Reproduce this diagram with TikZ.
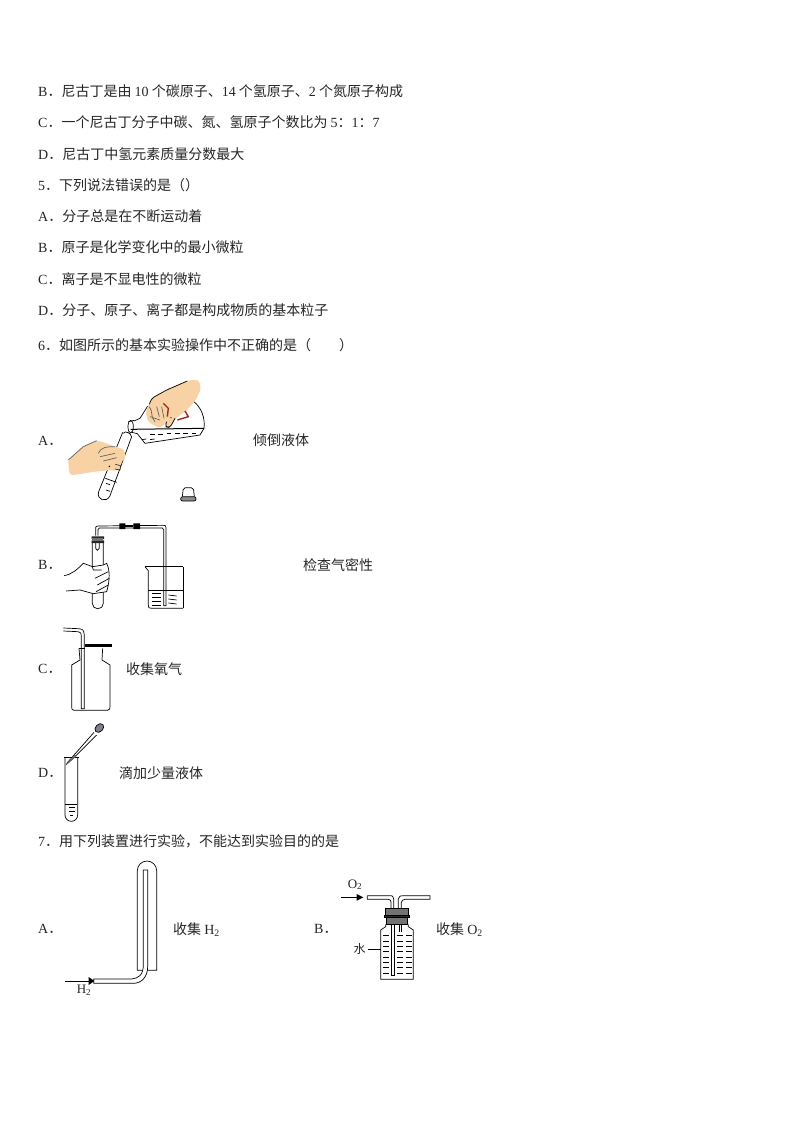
\documentclass[tikz,border=0pt]{standalone}
\usepackage{fontspec}
\setmainfont{Noto Sans CJK SC}
\newfontfamily\lat{Liberation Serif}
\usepackage{tikz}
\definecolor{skin}{HTML}{F8D2A4}
\definecolor{bulb}{HTML}{7F7F8C}
\definecolor{redmark}{HTML}{A02820}
\tikzset{
	linetext/.style={anchor=west,inner sep=0pt,text height=13pt,text depth=2pt,font=\fontsize{14}{14}\selectfont,text=black!85},
	smalltext/.style={anchor=center,inner sep=0pt,font=\fontsize{12}{12}\selectfont,text=black!85},
	zoomed/.style={x=1/3*1pt,y=-1/3*1pt,line width=.7pt}
}
\newcommand{\lt}[1]{{\lat #1}}
\begin{document}
\begin{tikzpicture}[x=1pt,y=-1pt]
	\useasboundingbox[fill=white] (0,0) rectangle (794,1123);
	% text of the page
	\node[linetext] (qb) at (38,91) {\lt{B}．尼古丁是由 \lt{10} 个碳原子、\lt{14} 个氢原子、\lt{2} 个氮原子构成};
	\node[linetext] (qc) at (38,122) {\lt{C}．一个尼古丁分子中碳、氮、氢原子个数比为 \lt{5}：\lt{1}：\lt{7}};
	\node[linetext] (qd) at (38,154) {\lt{D}．尼古丁中氢元素质量分数最大};
	\node[linetext] (qfive) at (38,185) {\lt{5}．下列说法错误的是（）};
	\node[linetext] (fa) at (38,216) {\lt{A}．分子总是在不断运动着};
	\node[linetext] (fb) at (38,247) {\lt{B}．原子是化学变化中的最小微粒};
	\node[linetext] (fc) at (38,279) {\lt{C}．离子是不显电性的微粒};
	\node[linetext] (fd) at (38,310) {\lt{D}．分子、原子、离子都是构成物质的基本粒子};
	\node[linetext] (qsix) at (38,345) {\lt{6}．如图所示的基本实验操作中不正确的是（　　）};
	\node[linetext] (sa) at (38,440) {\lt{A}．};
	\node[linetext] (sat) at (253,440) {倾倒液体};
	\node[linetext] (sb) at (38,564) {\lt{B}．};
	\node[linetext] (sbt) at (303,565) {检查气密性};
	\node[linetext] (sc) at (38,668) {\lt{C}．};
	\node[linetext] (sct) at (126,669) {收集氧气};
	\node[linetext] (sd) at (38,772) {\lt{D}．};
	\node[linetext] (sdt) at (119,773) {滴加少量液体};
	\node[linetext] (qseven) at (38,841) {\lt{7}．用下列装置进行实验，不能达到实验目的的是};
	\node[linetext] (va) at (38,928) {\lt{A}．};
	\node[linetext] (vat) at (173,929) {收集 \lt{H\textsubscript{2}}};
	\node[linetext] (vb) at (314,928) {\lt{B}．};
	\node[linetext] (vbt) at (436,929) {收集 \lt{O\textsubscript{2}}};
	% pouring liquid
	\begin{scope}[shift={(60,375)},zoomed]
		\draw (222,138) -- (240,130) -- (262,95) -- (300,85);
		\draw (395,75) .. controls (425,95) and (436,130) .. (432,160) -- (420,180) -- (255,205) -- (232,176) -- (215,172);
		\draw (205,140) -- (222,136);
		\draw (212,155) ellipse (8 and 19);
		\draw[line width=1pt] (212,163) -- (432,160);
		\foreach \x in {270,295,...,395} \draw (\x,186-\x*.03) -- (\x+14,186-\x*.03);
		\foreach \x in {245,270} \draw (\x,194) -- (\x+14,192);
		\filldraw[fill=skin,draw=skin,rounded corners=3pt] (382,18) -- (415,15) -- (422,40) -- (408,72) -- (380,105) -- (345,130) -- (330,158) -- (315,155) -- (320,140) -- (300,158) -- (265,140) -- (258,110) -- (270,85) -- (275,70) -- (320,45) -- cycle;
		\draw[rounded corners=3pt] (382,18) -- (320,45) -- (275,70) -- (268,88);
		\draw[black!60] (268,95) .. controls (280,110) and (270,125) .. (285,140) (290,95) -- (298,125) (305,95) -- (312,130) (270,125) -- (300,135);
		\draw[redmark,line width=1.4pt] (310,85) -- (325,100) -- (322,125) (352,135) -- (385,125) -- (375,108);
		\draw[rounded corners=3pt] (345,130) -- (330,158) -- (315,155) -- (320,140);
		\fill (333,128) circle (2);
		\draw (188,172) -- (116,350) .. controls (108,375) and (140,385) .. (150,362) -- (215,185);
		\draw (190,175) .. controls (195,165) and (215,175) .. (215,187);
		\draw (136,310) -- (170,322);
		\foreach \y in {325,345} \draw (138,\y) -- (150,\y+4);
		\filldraw[fill=skin,draw=skin,rounded corners=3pt] (25,255) -- (70,215) -- (110,197) -- (140,207) -- (192,225) -- (197,245) -- (180,265) -- (180,285) -- (140,285) -- (95,290) -- (55,297) -- (30,300) -- cycle;
		\draw[black!60] (25,255) -- (70,215) -- (110,197) (115,235) .. controls (125,215) and (140,215) .. (165,215) (120,245) -- (165,235) (130,258) -- (170,248);
		\draw[black!80] (166,268) -- (182,272) -- (180,285) -- (165,282);
		\fill (148,274) circle (2.5);
		% stopper beside the tube
		\draw[rounded corners=2pt] (367,365) -- (370,338) -- (400,338) -- (403,365);
		\filldraw[fill=black!45,rounded corners=2pt] (362,365) rectangle (408,378);
	\end{scope}
	% testing for leaks
	\begin{scope}[shift={(60,515)},zoomed]
		\draw (97,80) -- (97,265) arc (180:0:16.5) -- (130,80);
		\draw (107,62) -- (107,40) .. controls (107,35) .. (113,33) -- (310,31) .. controls (317,31) .. (318,38) -- (318,272) -- (311,272) -- (311,44) .. controls (311,40) .. (307,39) -- (118,39) .. controls (114,40) .. (114,44) -- (114,62);
		\draw (107,82) -- (107,100) -- (112,106) -- (118,100) -- (118,82);
		\fill (178,25) rectangle (196,42) (220,25) rectangle (240,42);
		\fill (196,30) rectangle (220,37);
		\fill[black!85] (95,64) rectangle (132,72) (95,76) rectangle (132,84);
		\fill[black!55] (97,70) rectangle (130,77);
		\draw (255,155) -- (369,155);
		\draw (255,155) -- (265,167) -- (265,270) .. controls (265,278) .. (275,280) -- (369,280);
		\draw (369,155) -- (369,280);
		\draw (265,226) -- (369,226);
		\foreach \y in {236,248,260,272} \draw (277,\y) -- (302,\y);
		\foreach \y in {240,252,264} \draw (325,\y) -- (350,\y+3);
		\filldraw[fill=white] (12,182) .. controls (35,178) and (50,165) .. (70,145) -- (98,155) -- (130,150) -- (140,145) .. controls (150,165) and (150,195) .. (140,230) -- (100,236) -- (60,225) -- (18,228);
		\draw (97,155) -- (100,165) -- (125,165) (105,190) -- (145,170) (112,210) -- (148,190) (108,230) -- (145,210);
	\end{scope}
	% gas jar and dropper
	\begin{scope}[shift={(30,620)},zoomed]
		\draw (147,85) -- (150,120) -- (125,135) -- (125,260) .. controls (125,268) .. (132,271) -- (232,271) .. controls (240,268) .. (240,260) -- (240,135) -- (216,120) -- (218,85);
		\draw (147,85) -- (165,85);
		\fill (165,73) rectangle (245,81);
		\draw (100,24) -- (145,26) .. controls (160,28) .. (163,45) -- (163,266) -- (154,266) -- (154,50) .. controls (153,38) .. (143,35) -- (100,33);
		\draw (105,412) -- (105,585) arc (180:0:19) -- (143,412);
		\draw (102,412) -- (147,412);
		\draw (106,552) -- (142,552);
		\foreach \y in {562,574} \draw (118,\y) -- (134,\y);
		\draw (120,586) -- (128,586);
		\draw (192,337) -- (112,428) -- (110,432) -- (130,415) -- (200,345);
		\fill[black!60] (112,428) -- (135,404) -- (140,408) -- (110,434) -- cycle;
		\filldraw[fill=bulb,rotate around={45:(208,324)}] (208,324) ellipse (15 and 11);
	\end{scope}
	% collecting hydrogen
	\begin{scope}[shift={(30,850)},zoomed]
		\draw (322,361) -- (322,62) arc (180:360:29) -- (380,361) -- cycle;
		\filldraw[fill=white] (191,387) -- (305,387) .. controls (325,385) and (340,375) .. (340,345) -- (340,60) -- (353,60) -- (353,350) .. controls (353,380) and (335,400) .. (310,400) -- (191,400) -- cycle;
		\draw (105,393) -- (178,393);
		\fill (176,381) -- (193,393) -- (176,405) -- cycle;
		\node[smalltext] (hlabel) at (162,420) {\lt{\fontsize{13}{13}\selectfont H\textsubscript{2}}};
	\end{scope}
	% collecting oxygen
	\begin{scope}[shift={(340,875)},zoomed]
		\draw (122,165) -- (122,313) -- (220,313) -- (220,165) -- (205,155) -- (205,148) (122,165) -- (137,155) -- (137,148);
		\filldraw[fill=black!55,draw=black] (137,100) rectangle (205,120);
		\filldraw[fill=black!85] (133,120) rectangle (209,128);
		\filldraw[fill=black!55,draw=black] (140,128) rectangle (202,148);
		\draw (82,62) -- (148,62) .. controls (158,62) .. (161,72) -- (161,100);
		\draw (82,62) -- (82,73) -- (145,73) .. controls (152,75) .. (153,82) -- (153,100);
		\draw (270,62) -- (190,62) .. controls (180,62) .. (175,72) -- (175,100);
		\draw (270,62) -- (270,73) -- (195,73) .. controls (187,75) .. (184,82) -- (184,100);
		\draw (155,148) -- (155,300) -- (162,300) -- (162,148);
		\draw (177,148) -- (177,172) (184,148) -- (184,172);
		\foreach \y in {182,198,...,300} {
			\draw (130,\y) -- (148,\y);
			\draw (170,\y) -- (190,\y);
			\draw (198,\y) -- (215,\y);
		}
		\draw (85,222) -- (122,222);
		\node[smalltext] (waterlabel) at (59,222) {水};
		\draw (3,67) -- (55,67);
		\fill (50,57) -- (70,67) -- (50,77) -- cycle;
		\node[smalltext] (olabel) at (45,29) {\lt{\fontsize{13}{13}\selectfont O\textsubscript{2}}};
	\end{scope}
\end{tikzpicture}
\end{document}
